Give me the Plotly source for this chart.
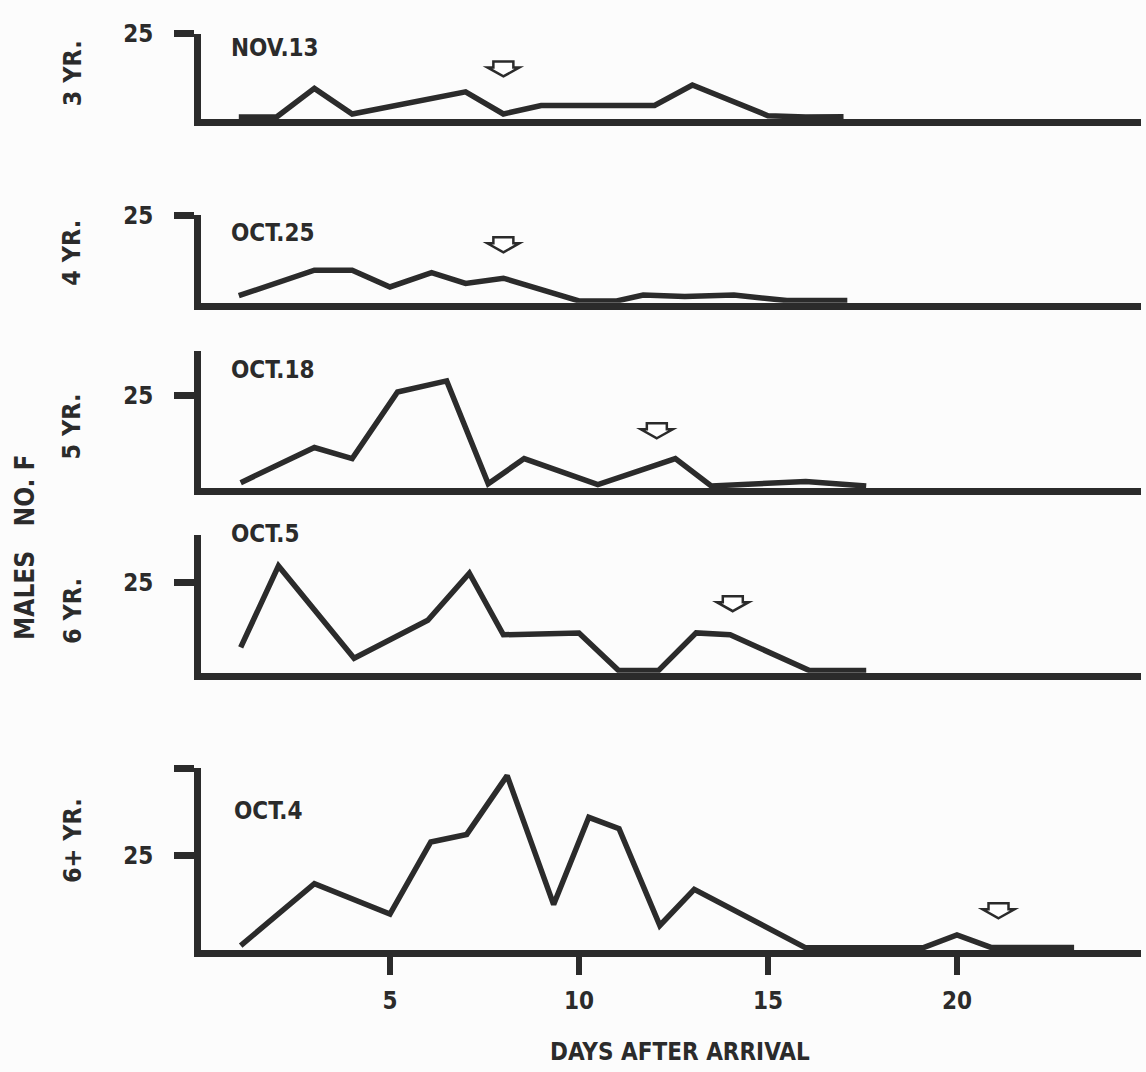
import plotly.graph_objects as go

# ---------------- data ----------------
panel_labels = ["3 YR.", "4 YR.", "5 YR.", "6 YR.", "6+ YR."]
panel_dates = ["NOV.13", "OCT.25", "OCT.18", "OCT.5", "OCT.4"]

days_3yr = [1, 2, 3, 4, 7, 8, 9, 12, 13, 15, 16, 17]
vals_3yr = [0.6, 0.6, 9, 1.5, 8, 1.5, 4, 4, 10, 1.0, 0.6, 0.7]

days_4yr = [1, 3, 4, 5, 6.1, 7, 8, 10, 11, 11.7, 12.8, 14.1, 15.5, 17.1]
vals_4yr = [2, 9.3, 9.3, 4.5, 8.6, 5.5, 7, 0.5, 0.5, 2.2, 1.8, 2.2, 0.6, 0.6]

days_5yr = [1.05, 3, 4, 5.2, 6.5, 7.6, 8.55, 10.5, 12.55, 13.5, 16, 17.6]
vals_5yr = [1.5, 11, 8, 26, 29, 1.2, 8, 1.0, 8, 0.6, 1.8, 0.6]

days_6yr = [1.05, 2.05, 4.05, 6, 7.1, 8, 10, 11.05, 12.1, 13.1, 14, 16.1, 17.6]
vals_6yr = [7, 29.5, 4, 14.5, 27.5, 10.5, 11, 0.6, 0.6, 11, 10.5, 0.6, 0.6]

days_6plus = [1.05, 3, 5, 6.08, 7.03, 8.1, 9.33, 10.26, 11.06, 12.14, 13.05, 16, 19.1, 20, 20.9, 23.1]
vals_6plus = [1.2, 17.5, 9.5, 28.5, 30.5, 46, 12, 35, 32, 6.5, 16, 0.6, 0.6, 4, 0.7, 0.7]

arrow_days = [8.0, 8.0, 12.06, 14.07, 21.1]
arrow_levels = [12.5, 14.4, 13.5, 17.0, 8.4]

y_axis_tops = [25, 25, 37.2, 38, 48]
y_tick_vals = [[25], [25], [25], [25], [25, 48]]
y_tick_text = [["25"], ["25"], ["25"], ["25"], ["25", ""]]

x_tick_vals = [5, 10, 15, 20]
x_tick_text = ["5", "10", "15", "20"]
x_max = 24.87

x_title = "DAYS AFTER ARRIVAL"
y_title = "MALES\u00a0\u00a0\u00a0NO.\u00a0F"

series_days = [days_3yr, days_4yr, days_5yr, days_6yr, days_6plus]
series_vals = [vals_3yr, vals_4yr, vals_5yr, vals_6yr, vals_6plus]

# ---------------- styling / layout ----------------
W, H = 1146, 1072
INK = "#2b2b2b"
BG = "#fcfcfc"
FONT = "DejaVu Sans Condensed, Liberation Sans Narrow, sans-serif"
AXW = 7

# top of axis, centre of baseline (pixels from top)
panel_px = [(20, 110), (204, 296), (341, 484), (528, 671), (764, 952)]
x_left_px, x_right_px = 201, 1141
date_pos = [(229, 34), (229, 222), (229, 361), (229, 527), (232, 808)]
label_y = [60, 242, 418, 605, 838]

fig = go.Figure()
layout = dict(
    width=W, height=H,
    margin=dict(l=0, r=0, t=0, b=0),
    paper_bgcolor=BG, plot_bgcolor="rgba(0,0,0,0)",
    showlegend=False,
)

shapes = []
annotations = []

for i in range(5):
    s = "" if i == 0 else str(i + 1)
    top, base = panel_px[i]
    bot = base - AXW / 2.0
    fig.add_trace(go.Scatter(
        x=series_days[i], y=series_vals[i], mode="lines",
        line=dict(color=INK, width=5.5, shape="linear"),
        xaxis="x" + s, yaxis="y" + s, hoverinfo="skip",
    ))
    last = (i == 4)
    layout["xaxis" + s] = dict(
        domain=[x_left_px / W, x_right_px / W], range=[0, x_max],
        anchor="y" + s, showline=True, linewidth=AXW, linecolor=INK,
        showgrid=False, zeroline=False, fixedrange=True,
        ticks="outside" if last else "", tickvals=x_tick_vals if last else [],
        ticktext=x_tick_text if last else [], ticklen=18, tickwidth=6, tickcolor=INK,
        showticklabels=last,
        tickfont=dict(family=FONT, size=24, color=INK, weight="bold"),
        ticklabelstandoff=5,
    )
    layout["yaxis" + s] = dict(
        domain=[1 - bot / H, 1 - top / H], range=[0, y_axis_tops[i]],
        anchor="x" + s, showline=True, linewidth=AXW, linecolor=INK,
        showgrid=False, zeroline=False, fixedrange=True,
        ticks="outside", tickvals=y_tick_vals[i], ticktext=y_tick_text[i],
        ticklen=20, tickwidth=7, tickcolor=INK,
        tickfont=dict(family=FONT, size=24, color=INK, weight="bold"),
        ticklabelstandoff=16,
    )
    # hollow down-pointing arrow marker
    shapes.append(dict(
        type="path", xref="x" + s, yref="y" + s,
        xsizemode="pixel", ysizemode="pixel",
        xanchor=arrow_days[i], yanchor=arrow_levels[i],
        path="M0,0 L16,9 L10,9 L10,15 L-10,15 L-10,9 L-16,9 Z",
        line=dict(color=INK, width=2.5), fillcolor="white", layer="above",
    ))
    dx, dy = date_pos[i]
    annotations.append(dict(
        text=panel_dates[i], xref="paper", yref="paper",
        x=dx / W, y=1 - dy / H, xanchor="left", yanchor="middle",
        showarrow=False, font=dict(family=FONT, size=24, color=INK, weight="bold"),
    ))
    annotations.append(dict(
        text=panel_labels[i], xref="paper", yref="paper",
        x=72 / W, y=1 - label_y[i] / H, xanchor="center", yanchor="middle",
        textangle=-90, showarrow=False,
        font=dict(family=FONT, size=25, color=INK, weight="bold"),
    ))

annotations.append(dict(
    text=y_title, xref="paper", yref="paper", x=25 / W, y=1 - 541 / H,
    xanchor="center", yanchor="middle", textangle=-90, showarrow=False,
    font=dict(family=FONT, size=26, color=INK, weight="bold"),
))
annotations.append(dict(
    text=x_title, xref="paper", yref="paper", x=680 / W, y=1 - 1052 / H,
    xanchor="center", yanchor="middle", showarrow=False,
    font=dict(family=FONT, size=24, color=INK, weight="bold"),
))

layout["shapes"] = shapes
layout["annotations"] = annotations
fig.update_layout(**layout)
fig.write_html("out.html")
